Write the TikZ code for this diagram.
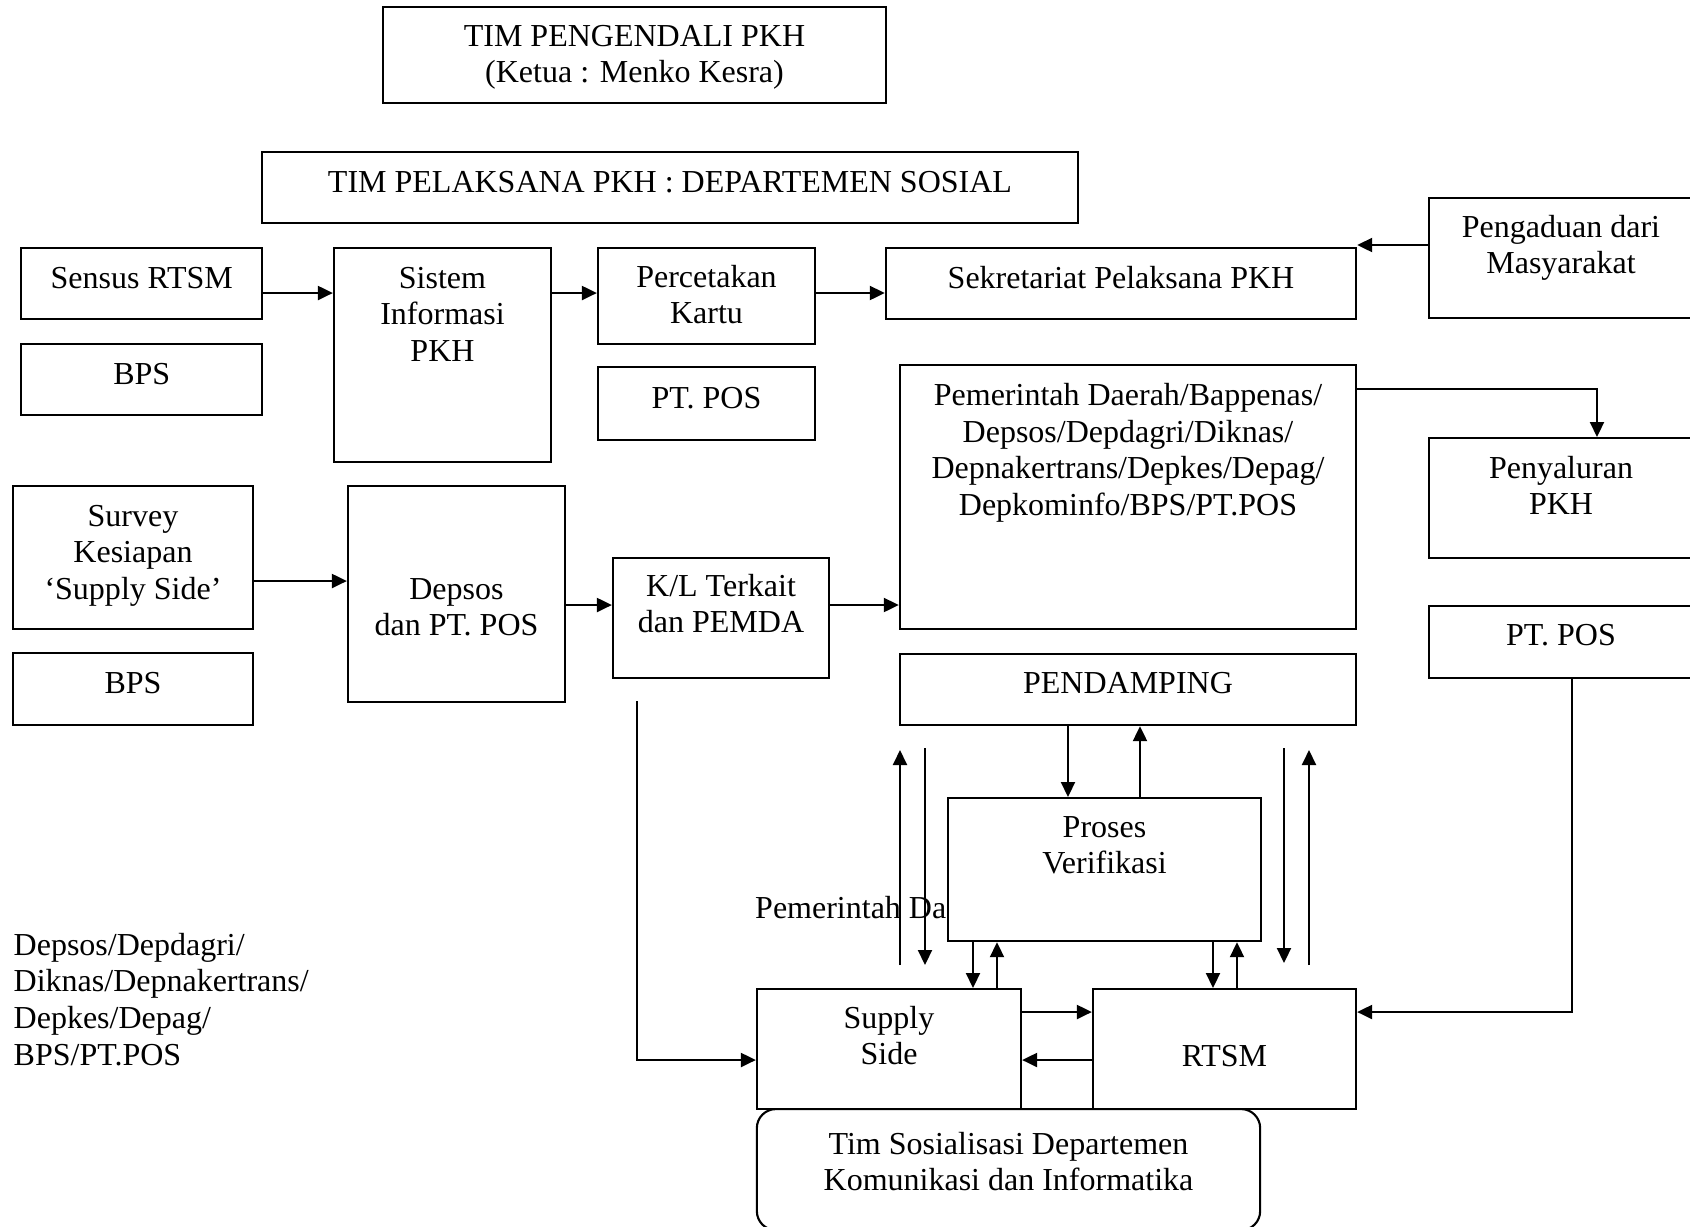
\documentclass[tikz,border=0pt]{standalone}
\usepackage{fontspec}
\setmainfont{Liberation Serif}
\usetikzlibrary{arrows.meta}
\tikzset{
  ar/.style={-{Triangle[length=1.5mm,width=1.4mm]},line width=0.6pt},
  box/.style={draw,line width=0.6pt,fill=white,inner sep=0pt,align=center,anchor=north},
  sz/.style n args={3}{minimum width=#1cm,text height=#2cm,text depth=#3cm},
  txt/.style={inner sep=0pt,align=left,anchor=base west}
}

\begin{document}
\begin{tikzpicture}[x=0.01cm,y=-0.01cm,font=\fontsize{9.1pt}{10.4pt}\selectfont]
\useasboundingbox (0,0) rectangle (1690,1226);

% loose texts
\node[txt] (pemtxt) at (754.5,918) {Pemerintah Daerah};
\node[txt] (kltxt) at (13,1065) {Depsos/Depdagri/\\Diknas/Depnakertrans/\\Depkes/Depag/\\BPS/PT.POS};

% top
\node[box,sz={5.03}{.757}{.203}] (pengendali) at (634.5,6) {TIM PENGENDALI PKH\\(Ketua : Menko Kesra)};
\node[box,sz={8.16}{.40}{.31}] (pelaksana) at (670,151) {TIM PELAKSANA PKH : DEPARTEMEN SOSIAL};

% row one
\node[box,sz={2.405}{.40}{.31}] (sensus) at (141.75,247) {Sensus RTSM};
\node[box,sz={2.405}{.40}{.31}] (bpsa) at (141.75,343) {BPS};
\node[box,sz={2.17}{1.134}{1.006}] (sistem) at (442.5,247) {Sistem\\Informasi\\PKH};
\node[box,sz={2.17}{.757}{.203}] (cetak) at (706.5,247) {Percetakan\\Kartu};
\node[box,sz={2.17}{.41}{.32}] (posa) at (706.5,366) {PT. POS};
\node[box,sz={4.70}{.40}{.31}] (sekret) at (1121,247) {Sekretariat Pelaksana PKH};
\node[box,sz={2.64}{.757}{.443}] (aduan) at (1561,197) {Pengaduan dari\\Masyarakat};

% row two
\node[box,sz={4.56}{1.501}{1.139}] (pemda) at (1128,364) {Pemerintah Daerah/Bappenas/\\Depsos/Depdagri/Diknas/\\Depnakertrans/Depkes/Depag/\\Depkominfo/BPS/PT.POS};
\node[box,sz={2.64}{.767}{.433}] (salur) at (1561,437) {Penyaluran\\PKH};
\node[box,sz={2.64}{.39}{.33}] (posc) at (1561,605) {PT. POS};
\node[box,sz={2.40}{1.134}{.296}] (survey) at (133,485) {Survey\\Kesiapan\\‘Supply Side’};
\node[box,sz={2.40}{.40}{.32}] (bpsb) at (133,652) {BPS};
\node[box,sz={2.17}{1.497}{.663}] (depsos) at (456.5,485) {Depsos\\dan PT. POS};
\node[box,sz={2.16}{.747}{.453}] (kl) at (721,557) {K/L Terkait\\dan PEMDA};
\node[box,sz={4.56}{.39}{.32}] (damping) at (1128,653) {PENDAMPING};

% bottom
\node[box,sz={3.12}{.757}{.673}] (proses) at (1104.5,797) {Proses\\Verifikasi};
\node[box,sz={2.64}{.757}{.443}] (supply) at (889,988) {Supply\\Side};
\node[box,sz={2.63}{.77}{.43}] (rtsm) at (1224.5,988) {RTSM};
\node[box,sz={5.03}{.817}{.393},rounded corners=0.19cm] (sosial) at (1008.5,1108) {Tim Sosialisasi Departemen\\Komunikasi dan Informatika};

% free ends
\coordinate (lua) at (900,965); \coordinate (lub) at (900,750);
\coordinate (lda) at (925,748); \coordinate (ldb) at (925,965);
\coordinate (rda) at (1284,748); \coordinate (rdb) at (1284,963);
\coordinate (rua) at (1309,965); \coordinate (rub) at (1309,750);
\coordinate (kldn) at (637,701);

% connectors
\draw[ar] (sensus.east |- 0,293) -- (sistem.west |- 0,293);
\draw[ar] (sistem.east |- 0,293) -- (cetak.west |- 0,293);
\draw[ar] (cetak.east |- 0,293) -- (sekret.west |- 0,293);
\draw[ar] (aduan.west |- 0,245) -- (sekret.east |- 0,245);
\draw[ar] (pemda.east |- 0,389) -| (salur.north -| 1597,0);
\draw[ar] (survey.east |- 0,581) -- (depsos.west |- 0,581);
\draw[ar] (depsos.east |- 0,605) -- (kl.west |- 0,605);
\draw[ar] (kl.east |- 0,605) -- (pemda.west |- 0,605);
\draw[ar] (kldn) |- (supply.west |- 0,1060);
\draw[ar] (posc.south -| 1572,0) |- (rtsm.east |- 0,1012);
\draw[ar] (supply.east |- 0,1012) -- (rtsm.west |- 0,1012);
\draw[ar] (rtsm.west |- 0,1060) -- (supply.east |- 0,1060);
\draw[ar] (damping.south -| 1068,0) -- (proses.north -| 1068,0);
\draw[ar] (proses.north -| 1140,0) -- (damping.south -| 1140,0);
\draw[ar] (proses.south -| 973,0) -- (supply.north -| 973,0);
\draw[ar] (supply.north -| 997,0) -- (proses.south -| 997,0);
\draw[ar] (proses.south -| 1213,0) -- (rtsm.north -| 1213,0);
\draw[ar] (rtsm.north -| 1237,0) -- (proses.south -| 1237,0);
\draw[ar] (lua) -- (lub);
\draw[ar] (lda) -- (ldb);
\draw[ar] (rda) -- (rdb);
\draw[ar] (rua) -- (rub);
\end{tikzpicture}
\end{document}
